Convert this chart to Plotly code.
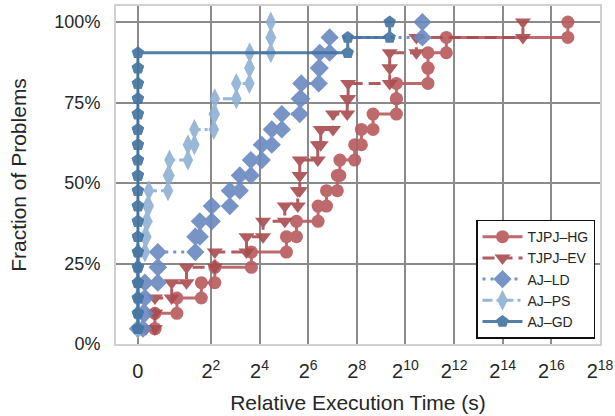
import math
import plotly.graph_objects as go

# ---- data (relative execution time in seconds, sorted, one value per problem) ----
series_names = ["TJPJ\u2013HG", "TJPJ\u2013EV", "AJ\u2013LD", "AJ\u2013PS", "AJ\u2013GD"]
tjpj_hg = [0.70, 0.70, 1.52, 3.05, 4.48, 12.7, 34.5, 45.9, 85, 108, 147, 158, 241, 292,
           407, 792, 792, 1947, 1947, 3288, 104900]
tjpj_ev = [0.33, 0.70, 0.70, 1.31, 2.0, 4.48, 11.05, 17.7, 32.9, 47.6, 50.4, 50.4, 84.2,
           91.6, 130, 195, 200, 654, 654, 1399, 29120]
aj_ld = [0, 0.21, 0.29, 0.29, 0.82, 0.82, 2.57, 2.92, 4.11, 6.87, 9.13, 12.5, 17.1, 22.7,
         30.2, 50.4, 52.6, 86.6, 89.1, 118, 1660]
aj_ps = [0, 0, 0, 0, 0, 0, 0.29, 0.35, 0.39, 0.45, 1.18, 1.23, 2.08, 2.50, 4.35, 4.48,
         8.27, 12.0, 12.1, 22.1, 22.1]
aj_gd = [0] * 19 + [198, 654]

tick_exps = [2, 4, 6, 8, 10, 12, 14, 16, 18]
y_ticks = [0, 0.25, 0.5, 0.75, 1.0]
y_ticktext = ["0%", "25%", "50%", "75%", "100%"]

colors = ["#b85a5e", "#a84b4f", "#6a88bf", "#8eb0d3", "#41729f"]
symbols = ["circle", "triangle-down", "diamond", "diamond-tall", "pentagon"]
sizes = [13, 14, 14, 15, 13]
dashes = ["solid", "12px,6px", "3px,5px", "10px,4px,3px,4px", "solid"]


def symlog2(v):
    # symmetric log (base 2) with linear region [0, 1]
    return v if v <= 1 else 1 + math.log2(v)


def staircase(vals):
    n = len(vals)
    xs = [vals[0]]
    ys = [1 / n]
    for i in range(1, n):
        xs += [vals[i], vals[i]]
        ys += [i / n, (i + 1) / n]
    return [symlog2(v) for v in xs], ys


fig = go.Figure()
for name, vals, c, s, sz, d in zip(series_names, [tjpj_hg, tjpj_ev, aj_ld, aj_ps, aj_gd],
                                   colors, symbols, sizes, dashes):
    xs, ys = staircase(vals)
    fig.add_trace(go.Scatter(
        x=xs, y=ys, name=name, mode="lines+markers",
        line=dict(color=c, width=3, dash=d),
        marker=dict(symbol=s, size=sz, color=c, line=dict(width=0)),
        opacity=0.9,
        cliponaxis=False,
    ))

font_family = "Liberation Sans, Arial, sans-serif"
fig.update_layout(
    width=615, height=416,
    margin=dict(l=116, r=15, t=6, b=72, autoexpand=False),
    paper_bgcolor="white", plot_bgcolor="white",
    font=dict(family=font_family, color="#262626", size=18),
    showlegend=True,
    legend=dict(
        x=0.9897, y=0.016, xanchor="right", yanchor="bottom",
        bgcolor="white", bordercolor="#111111", borderwidth=1.5,
        font=dict(size=14, color="#262626"),
        tracegroupgap=0, itemwidth=40,
    ),
)
fig.update_xaxes(
    range=[-0.9, 19.0],
    tickmode="array",
    tickvals=[0] + [symlog2(2 ** e) for e in tick_exps],
    ticktext=["0"] + ["2<sup>%d</sup>" % e for e in tick_exps],
    tickfont=dict(size=20),
    showgrid=True, gridcolor="#8a8a8a", gridwidth=1.5,
    zeroline=False, automargin=False,
    showline=True, linecolor="#d0d0d0", linewidth=2, mirror=True,
    ticks="", ticklabelstandoff=8,
    title=dict(text="Relative Execution Time (s)", font=dict(size=21), standoff=14),
)
fig.update_yaxes(
    range=[0, 1.05],
    tickmode="array", tickvals=y_ticks, ticktext=y_ticktext,
    tickfont=dict(size=18),
    showgrid=True, gridcolor="#8a8a8a", gridwidth=1.5,
    zeroline=False, automargin=False,
    showline=True, linecolor="#d0d0d0", linewidth=2, mirror=True,
    ticks="", ticklabelstandoff=10,
    title=dict(text="Fraction of Problems", font=dict(size=21), standoff=22),
)

fig.write_html("out.html", config={"displayModeBar": False},
               post_script="document.body.style.margin='0';")
